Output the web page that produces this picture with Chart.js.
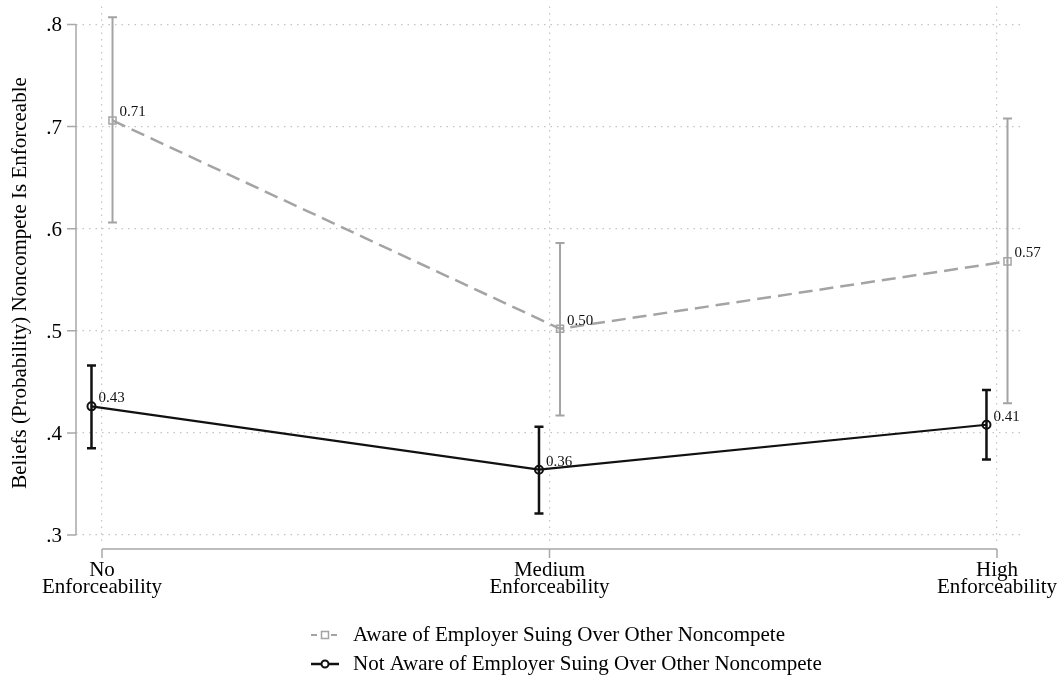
<!DOCTYPE html>
<html>
<head>
<meta charset="utf-8">
<script src="https://cdn.jsdelivr.net/npm/chart.js@4.4.1/dist/chart.umd.min.js"></script>
<style>
  html, body { margin: 0; padding: 0; background: #ffffff; }
  #wrap { width: 1058px; height: 675px; }
</style>
</head>
<body>
<div id="wrap"><canvas id="chart" width="1058" height="675"></canvas></div>
<script>
// Enforceability categories (x axis, one entry per tick, two text lines each)
const categories = [
  ['No', 'Enforceability'],
  ['Medium', 'Enforceability'],
  ['High', 'Enforceability']
];

// Aware of employer suing over another noncompete: mean belief and 95% CI
const awareMean  = [0.706, 0.502, 0.568];
const awareLower = [0.606, 0.417, 0.429];
const awareUpper = [0.807, 0.586, 0.708];

// Not aware of employer suing over another noncompete
const notAwareMean  = [0.426, 0.364, 0.408];
const notAwareLower = [0.385, 0.321, 0.374];
const notAwareUpper = [0.466, 0.406, 0.442];

// Y axis ticks
const yTickValues = [0.3, 0.4, 0.5, 0.6, 0.7, 0.8];
const yTickLabels = ['.3', '.4', '.5', '.6', '.7', '.8'];

const seriesNames = [
  'Aware of Employer Suing Over Other Noncompete',
  'Not Aware of Employer Suing Over Other Noncompete'
];
const yTitle = 'Beliefs (Probability) Noncompete Is Enforceable';

const SERIF = '"Liberation Serif", "Times New Roman", Times, serif';
const GRAY = '#a4a4a4';
const BLACK = '#111111';
const AXIS = '#a8a8a8';
const GRID = '#c4c4c4';
const DODGE = 0.0235;   // horizontal offset between the two series at a category

const intervals = [
  { lower: awareLower, upper: awareUpper, color: GRAY, width: 2 },
  { lower: notAwareLower, upper: notAwareUpper, color: BLACK, width: 2.5 }
];

const toPoints = (means, shift) => means.map((v, i) => ({ x: i + 1 + shift, y: v }));

// Confidence-interval whiskers with caps
const errorBars = {
  id: 'errorBars',
  beforeDatasetsDraw(chart) {
    const { ctx, scales: { x, y } } = chart;
    chart.data.datasets.forEach((ds, i) => {
      const ci = intervals[i];
      ctx.save();
      ctx.strokeStyle = ci.color;
      ctx.lineWidth = ci.width;
      ctx.setLineDash([]);
      ds.data.forEach((p, j) => {
        const px = x.getPixelForValue(p.x);
        const top = y.getPixelForValue(ci.upper[j]);
        const bot = y.getPixelForValue(ci.lower[j]);
        ctx.beginPath();
        ctx.moveTo(px, top); ctx.lineTo(px, bot);
        ctx.moveTo(px - 4.5, top); ctx.lineTo(px + 4.5, top);
        ctx.moveTo(px - 4.5, bot); ctx.lineTo(px + 4.5, bot);
        ctx.stroke();
      });
      ctx.restore();
    });
  }
};

// Axis lines, ticks and tick labels, y title, point value labels and the legend
const decorations = {
  id: 'decorations',
  afterDraw(chart) {
    const { ctx, chartArea, scales: { x, y } } = chart;
    ctx.save();
    ctx.setLineDash([]);
    ctx.strokeStyle = AXIS;
    ctx.lineWidth = 1.5;

    // y axis spine and ticks
    const left = chartArea.left;
    ctx.beginPath();
    ctx.moveTo(left, y.getPixelForValue(yTickValues[yTickValues.length - 1]));
    ctx.lineTo(left, y.getPixelForValue(yTickValues[0]));
    yTickValues.forEach(v => {
      const py = y.getPixelForValue(v);
      ctx.moveTo(left - 9, py); ctx.lineTo(left, py);
    });
    ctx.stroke();

    // x axis spine and ticks, set just below the plot region
    const base = chartArea.bottom + 6;
    ctx.beginPath();
    ctx.moveTo(x.getPixelForValue(1), base);
    ctx.lineTo(x.getPixelForValue(categories.length), base);
    categories.forEach((_, i) => {
      const px = x.getPixelForValue(i + 1);
      ctx.moveTo(px, base); ctx.lineTo(px, base + 9);
    });
    ctx.stroke();

    ctx.fillStyle = '#000';
    ctx.font = '21px ' + SERIF;

    // y tick labels
    ctx.textAlign = 'right';
    ctx.textBaseline = 'alphabetic';
    yTickValues.forEach((v, i) => {
      ctx.fillText(yTickLabels[i], left - 14, y.getPixelForValue(v) + 7);
    });

    // x tick labels (two lines each)
    ctx.textAlign = 'center';
    categories.forEach((lines, i) => {
      const px = x.getPixelForValue(i + 1);
      lines.forEach((t, k) => ctx.fillText(t, px, base + 27 + k * 17));
    });

    // y axis title
    ctx.textBaseline = 'middle';
    ctx.save();
    ctx.translate(20, 283);
    ctx.rotate(-Math.PI / 2);
    ctx.fillText(yTitle, 0, 0);
    ctx.restore();

    // value labels next to each point
    ctx.font = '15px ' + SERIF;
    ctx.textAlign = 'left';
    ctx.textBaseline = 'middle';
    ctx.fillStyle = '#111';
    chart.data.datasets.forEach(ds => {
      ds.data.forEach(p => {
        const px = x.getPixelForValue(p.x);
        const py = y.getPixelForValue(p.y);
        ctx.fillText(p.y.toFixed(2), px + 7, py - 8);
      });
    });

    // legend: two stacked rows
    const rows = [
      { y: 635, color: GRAY, dash: [6, 4], width: 2, marker: 'square' },
      { y: 664, color: BLACK, dash: [], width: 2.5, marker: 'circle' }
    ];
    rows.forEach((r, i) => {
      ctx.strokeStyle = r.color;
      ctx.lineWidth = r.width;
      ctx.setLineDash(r.dash);
      ctx.beginPath();
      ctx.moveTo(311, r.y); ctx.lineTo(339, r.y);
      ctx.stroke();
      ctx.setLineDash([]);
      ctx.fillStyle = '#fff';
      ctx.lineWidth = r.marker === 'square' ? 1.5 : 2;
      ctx.beginPath();
      if (r.marker === 'square') ctx.rect(321.5, r.y - 3.5, 7, 7);
      else ctx.arc(325, r.y, 3.5, 0, Math.PI * 2);
      ctx.fill();
      ctx.stroke();
      ctx.fillStyle = '#000';
      ctx.font = '21px ' + SERIF;
      ctx.textAlign = 'left';
      ctx.textBaseline = 'middle';
      ctx.fillText(seriesNames[i], 353, r.y);
    });
    ctx.restore();
  }
};

Chart.defaults.font.family = SERIF;
Chart.defaults.color = '#000';

new Chart(document.getElementById('chart'), {
  type: 'line',
  data: {
    datasets: [
      {
        label: seriesNames[0],
        data: toPoints(awareMean, DODGE),
        borderColor: GRAY,
        borderWidth: 2.5,
        borderDash: [14, 7],
        pointStyle: 'rect',
        pointRadius: 5,
        pointBorderWidth: 1.5,
        pointBorderColor: GRAY,
        pointBackgroundColor: 'rgba(255,255,255,0)',
        tension: 0
      },
      {
        label: seriesNames[1],
        data: toPoints(notAwareMean, -DODGE),
        borderColor: BLACK,
        borderWidth: 2.2,
        pointStyle: 'circle',
        pointRadius: 4,
        pointBorderWidth: 2,
        pointBorderColor: BLACK,
        pointBackgroundColor: 'rgba(255,255,255,0)',
        tension: 0
      }
    ]
  },
  options: {
    responsive: false,
    animation: false,
    devicePixelRatio: 1,
    layout: { padding: { left: 0, right: 38, top: -4, bottom: 72 } },
    plugins: { legend: { display: false }, tooltip: { enabled: false } },
    scales: {
      x: {
        type: 'linear',
        min: 0.9419,
        max: 3.0514,
        afterBuildTicks(scale) { scale.ticks = categories.map((_, i) => ({ value: i + 1 })); },
        afterFit(scale) { scale.height = 60; },
        ticks: { display: false },
        grid: { color: GRID, lineWidth: 1.2, drawTicks: false },
        border: { display: false, dash: [1.5, 5] }
      },
      y: {
        type: 'linear',
        min: 0.2922,
        max: 0.8176,
        afterBuildTicks(scale) { scale.ticks = yTickValues.map(v => ({ value: v })); },
        afterFit(scale) { scale.width = 76; },
        ticks: { display: false },
        grid: { color: GRID, lineWidth: 1.2, drawTicks: false },
        border: { display: false, dash: [1.5, 5] }
      }
    }
  },
  plugins: [errorBars, decorations]
});
</script>
</body>
</html>
